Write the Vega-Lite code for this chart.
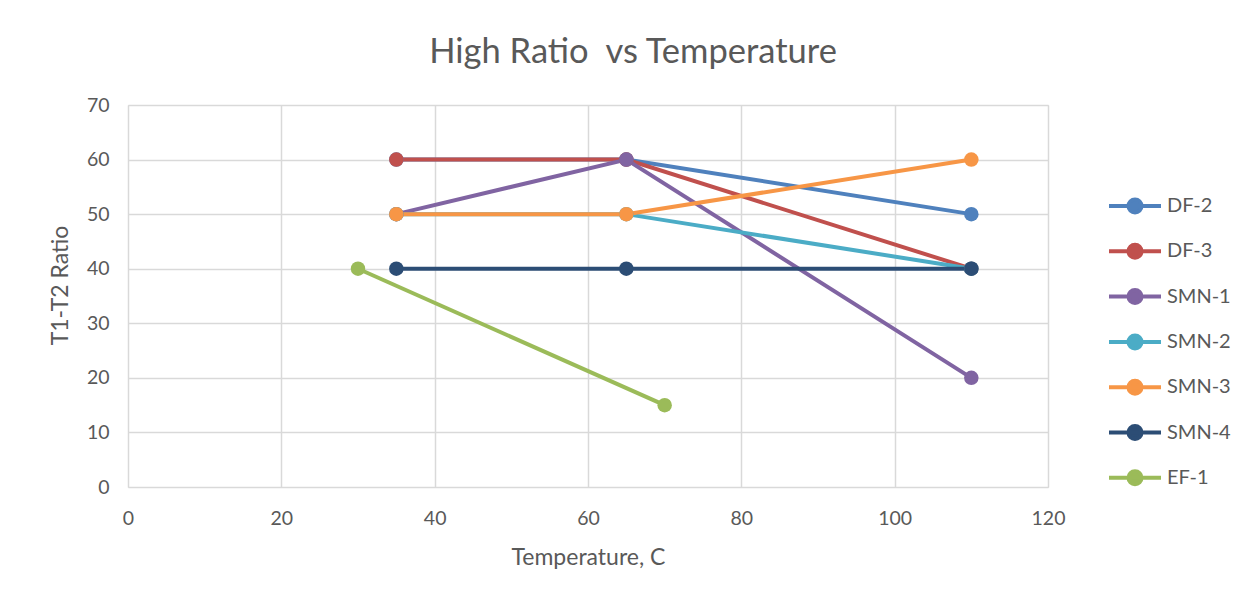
{
  "$schema": "https://vega.github.io/schema/vega-lite/v6.json",
  "autosize": "none",
  "width": 920,
  "height": 382,
  "padding": {"left": 128, "top": 105, "right": 204, "bottom": 114},
  "background": "white",
  "title": {
    "text": "High Ratio\u00a0 vs Temperature",
    "font": "Lato",
    "fontSize": 34.5,
    "fontWeight": "normal",
    "color": "#595959",
    "anchor": "middle",
    "dx": 45,
    "offset": 25
  },
  "data": {
    "values": [
      {"series": "DF-2", "temp": 35, "ratio": 60},
      {"series": "DF-2", "temp": 65, "ratio": 60},
      {"series": "DF-2", "temp": 110, "ratio": 50},
      {"series": "DF-3", "temp": 35, "ratio": 60},
      {"series": "DF-3", "temp": 65, "ratio": 60},
      {"series": "DF-3", "temp": 110, "ratio": 40},
      {"series": "SMN-1", "temp": 35, "ratio": 50},
      {"series": "SMN-1", "temp": 65, "ratio": 60},
      {"series": "SMN-1", "temp": 110, "ratio": 20},
      {"series": "SMN-2", "temp": 35, "ratio": 50},
      {"series": "SMN-2", "temp": 65, "ratio": 50},
      {"series": "SMN-2", "temp": 110, "ratio": 40},
      {"series": "SMN-3", "temp": 35, "ratio": 50},
      {"series": "SMN-3", "temp": 65, "ratio": 50},
      {"series": "SMN-3", "temp": 110, "ratio": 60},
      {"series": "SMN-4", "temp": 35, "ratio": 40},
      {"series": "SMN-4", "temp": 65, "ratio": 40},
      {"series": "SMN-4", "temp": 110, "ratio": 40},
      {"series": "EF-1", "temp": 30, "ratio": 40},
      {"series": "EF-1", "temp": 70, "ratio": 15}
    ]
  },
  "mark": {"type": "line", "strokeWidth": 4, "point": {"filled": true, "size": 210, "opacity": 1}},
  "encoding": {
    "x": {
      "field": "temp",
      "type": "quantitative",
      "scale": {"domain": [0, 120], "nice": false},
      "axis": {
        "title": "Temperature, C",
        "values": [0, 20, 40, 60, 80, 100, 120],
        "grid": true,
        "gridColor": "#D9D9D9",
        "gridWidth": 1.5,
        "domain": false,
        "ticks": false,
        "labelFlush": false,
        "labelFont": "Lato",
        "labelFontSize": 19.5,
        "labelColor": "#595959",
        "labelPadding": 22,
        "titleFont": "Lato",
        "titleFontSize": 23,
        "titleFontWeight": "normal",
        "titleColor": "#595959",
        "titlePadding": 19
      }
    },
    "y": {
      "field": "ratio",
      "type": "quantitative",
      "scale": {"domain": [0, 70], "nice": false},
      "axis": {
        "title": "T1-T2 Ratio",
        "values": [0, 10, 20, 30, 40, 50, 60, 70],
        "grid": true,
        "gridColor": "#D9D9D9",
        "gridWidth": 1.5,
        "domain": false,
        "ticks": false,
        "labelFlush": false,
        "labelFont": "Lato",
        "labelFontSize": 19.5,
        "labelColor": "#595959",
        "labelPadding": 19,
        "titleFont": "Lato",
        "titleFontSize": 23,
        "titleFontWeight": "normal",
        "titleColor": "#595959",
        "titlePadding": 14,
        "titleY": 180
      }
    },
    "color": {
      "field": "series",
      "type": "nominal",
      "sort": ["DF-2", "DF-3", "SMN-1", "SMN-2", "SMN-3", "SMN-4", "EF-1"],
      "scale": {
        "domain": ["DF-2", "DF-3", "SMN-1", "SMN-2", "SMN-3", "SMN-4", "EF-1"],
        "range": ["#4F81BD", "#C0504D", "#8064A2", "#4BACC6", "#F79646", "#2C4D75", "#9BBB59"]
      },
      "legend": {
        "title": null,
        "orient": "none",
        "legendX": 979,
        "legendY": 73,
        "symbolType": "M-1,0H1M-0.25,0A0.25,0.25 0 1,1 0.25,0A0.25,0.25 0 1,1 -0.25,0Z",
        "symbolSize": 2704,
        "symbolStrokeWidth": 4,
        "labelFont": "Lato",
        "labelFontSize": 20,
        "labelColor": "#595959",
        "labelOffset": 4,
        "rowPadding": 2.3
      }
    },
    "order": {"field": "temp", "type": "quantitative"}
  }
}
